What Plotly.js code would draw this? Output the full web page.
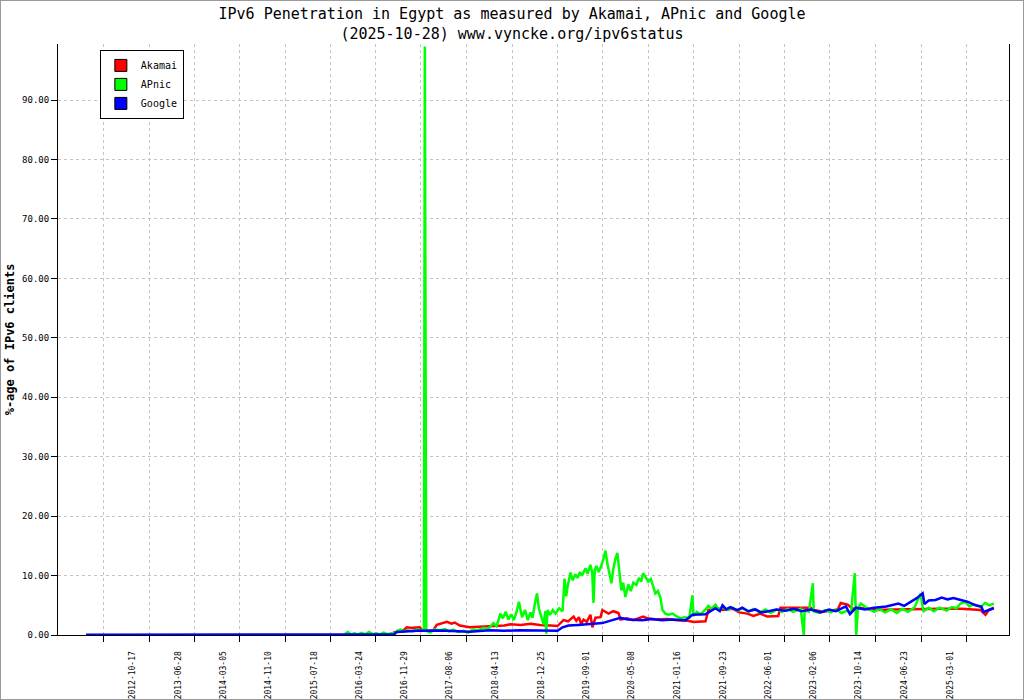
<!DOCTYPE html>
<html>
<head>
<meta charset="utf-8">
<script src="https://cdn.plot.ly/plotly-3.0.1.min.js"></script>
<style>
  html, body { margin: 0; padding: 0; background: #ffffff; }
  #chart { width: 1022px; height: 698px; border: 1px solid #9a9a9a; }
</style>
</head>
<body>
<div id="chart"></div>
<script>
// ---- Data ----
const tickLabels = ['2012-10-17','2013-06-28','2014-03-05','2014-11-10','2015-07-18','2016-03-24',
  '2016-11-29','2017-08-06','2018-04-13','2018-12-25','2019-09-01','2020-05-08','2021-01-16',
  '2021-09-23','2022-06-01','2023-02-06','2023-10-14','2024-06-23','2025-03-01'];

const akamaiDates = [
  '2016-09-25','2016-10-16','2016-11-15','2016-11-29','2016-12-10','2017-01-10','2017-02-20','2017-03-08','2017-05-03','2017-05-25',
  '2017-06-27','2017-07-20','2017-08-15','2017-09-01','2017-09-29','2017-11-23','2018-01-15','2018-04-03','2018-06-01','2018-07-06',
  '2018-09-01','2018-10-25','2018-12-15','2019-02-12','2019-03-23','2019-04-25','2019-05-20','2019-06-20','2019-07-05','2019-07-20',
  '2019-08-01','2019-08-14','2019-09-01','2019-09-21','2019-10-02','2019-10-19','2019-11-16','2019-11-26','2019-12-15','2019-12-30',
  '2020-01-26','2020-02-23','2020-03-05','2020-04-10','2020-05-15','2020-06-15','2020-07-09','2020-07-31','2020-09-15','2020-11-20',
  '2021-01-10','2021-03-11','2021-04-13','2021-06-18','2021-07-04','2021-08-15','2021-09-20','2021-11-19','2021-12-20','2022-02-04',
  '2022-03-10','2022-04-16','2022-05-25','2022-07-25','2022-08-06','2023-01-20','2023-02-06','2023-04-01','2023-06-19','2023-07-05',
  '2023-08-13','2023-09-10','2023-10-20','2023-12-15','2024-01-06','2024-05-01','2024-09-01','2025-01-01','2025-05-01','2025-08-16',
  '2025-09-12','2025-09-30','2025-10-28'];
const akamaiValues = [
  0.4,0.55,0.6,1.1,1.3,1.2,1.3,0.7,0.7,1.7,
  2.0,2.2,1.9,2.1,1.6,1.3,1.4,1.5,1.6,1.8,
  1.7,1.9,1.7,1.6,1.5,2.5,2.3,3.1,2.4,3.0,
  1.8,2.6,2.2,3.4,1.3,2.9,3.0,4.2,3.9,3.6,
  4.0,3.7,2.6,2.8,2.5,2.8,3.1,2.8,2.6,2.7,
  2.5,2.4,2.2,2.3,4.2,4.6,4.2,4.4,3.8,3.6,
  3.2,3.6,3.1,3.2,4.6,4.6,4.2,3.9,4.3,5.4,
  5.1,4.4,4.6,4.3,4.2,4.3,4.4,4.4,4.4,4.2,
  3.4,4.2,4.6];

const apnicDates = [
  '2016-01-04','2016-01-20','2016-02-05','2016-02-25','2016-03-15','2016-04-05','2016-04-25','2016-05-15','2016-06-05','2016-06-25',
  '2016-07-15','2016-08-05','2016-08-25','2016-09-15','2016-10-05','2016-10-16','2016-11-05','2016-11-25','2016-12-15','2017-01-10',
  '2017-02-04','2017-03-15','2017-03-20','2017-03-24','2017-03-28','2017-04-20','2017-05-10','2017-06-12','2017-07-10','2017-08-01',
  '2017-08-25','2017-09-20','2017-10-18','2017-11-15','2017-12-10','2018-01-10','2018-02-07','2018-03-05','2018-04-03','2018-04-20',
  '2018-05-12','2018-05-25','2018-06-10','2018-06-25','2018-07-10','2018-07-25','2018-08-10','2018-08-22','2018-09-08','2018-09-25',
  '2018-10-10','2018-10-25','2018-11-05','2018-11-19','2018-11-30','2018-12-10','2018-12-19','2019-01-05','2019-01-15','2019-01-20',
  '2019-01-27','2019-02-10','2019-02-25','2019-03-12','2019-04-01','2019-04-20','2019-05-01','2019-05-10','2019-05-17','2019-06-03',
  '2019-06-15','2019-06-30','2019-07-12','2019-07-25','2019-08-05','2019-08-25','2019-09-05','2019-09-21','2019-10-01','2019-10-08',
  '2019-10-15','2019-10-24','2019-11-05','2019-11-16','2019-12-02','2019-12-13','2019-12-24','2020-01-05','2020-01-15','2020-01-25',
  '2020-02-06','2020-02-17','2020-02-28','2020-03-10','2020-03-20','2020-04-01','2020-04-18','2020-05-01','2020-05-15','2020-06-01',
  '2020-06-15','2020-06-28','2020-07-08','2020-07-20','2020-08-06','2020-08-20','2020-09-01','2020-09-14','2020-09-28','2020-10-12',
  '2020-10-23','2020-11-08','2020-11-25','2020-12-18','2021-01-05','2021-01-31','2021-02-20','2021-03-20','2021-04-07','2021-04-12',
  '2021-05-01','2021-05-21','2021-06-15','2021-07-04','2021-07-20','2021-08-12','2021-08-28','2021-09-20','2021-10-15','2021-11-15',
  '2021-12-10','2022-01-07','2022-02-10','2022-03-10','2022-04-16','2022-05-15','2022-06-15','2022-07-15','2022-08-15','2022-09-15',
  '2022-10-15','2022-11-26','2022-12-13','2022-12-18','2023-01-10','2023-02-01','2023-02-06','2023-03-10','2023-04-10','2023-05-11',
  '2023-06-10','2023-07-10','2023-08-10','2023-08-30','2023-09-21','2023-09-29','2023-10-08','2023-10-25','2023-11-15','2023-12-10',
  '2024-01-06','2024-02-05','2024-03-05','2024-04-09','2024-05-10','2024-06-10','2024-07-10','2024-08-15','2024-09-19','2024-09-28',
  '2024-10-05','2024-11-02','2024-12-01','2025-01-01','2025-02-09','2025-03-10','2025-04-05','2025-04-27','2025-05-24','2025-06-15',
  '2025-07-10','2025-08-16','2025-09-10','2025-10-05','2025-10-28'];
const apnicValues = [
  0.2,0.5,0.1,0.3,0.1,0.35,0.1,0.5,0.15,0.3,
  0.1,0.4,0.15,0.3,0.2,0.67,0.9,0.6,0.8,0.6,
  0.9,0.7,99.0,50.0,0.7,0.4,0.9,0.8,1.0,0.6,
  0.9,0.5,0.7,0.4,0.9,0.8,1.2,1.0,2.0,1.5,
  3.6,2.8,3.9,2.6,3.5,2.5,4.0,5.6,3.0,4.2,
  2.5,3.8,2.9,5.4,7.0,4.5,3.5,1.8,4.0,0.2,
  4.2,3.4,4.2,3.6,4.5,4.0,9.5,6.5,8.0,10.5,
  9.2,10.2,9.6,10.6,10.0,11.2,10.3,11.8,10.5,5.4,
  11.0,11.6,10.6,11.3,12.8,14.2,12.0,10.0,8.7,11.0,
  12.8,13.8,11.0,7.5,8.8,6.4,8.5,7.4,8.8,8.4,
  9.6,9.0,10.4,9.8,9.0,9.4,8.4,7.0,7.4,6.2,
  4.2,3.6,3.4,3.6,3.2,2.8,3.0,2.9,6.7,3.2,
  3.9,3.5,4.2,4.9,4.4,5.1,4.3,4.7,4.2,4.6,
  4.1,4.5,3.9,4.4,3.8,4.3,3.7,4.3,3.9,4.4,
  3.9,4.4,0.0,4.2,3.9,8.7,4.0,3.7,4.2,3.8,
  4.3,3.7,4.1,3.6,10.4,0.0,4.5,5.3,4.8,4.3,
  3.9,4.4,3.8,4.3,3.7,4.4,3.9,4.6,7.0,5.0,
  4.0,4.6,4.0,4.6,4.1,4.7,4.5,5.3,5.6,4.8,
  5.2,4.7,5.4,5.0,5.3];

const googleDates = [
  '2012-02-03','2013-06-01','2014-06-01','2015-06-01','2016-06-01','2016-10-01','2016-10-16','2016-12-15','2017-02-04','2017-06-12',
  '2017-09-01','2017-11-23','2018-03-13','2018-06-01','2018-08-26','2018-12-01','2019-03-23','2019-04-20','2019-05-23','2019-07-15',
  '2019-09-09','2019-11-26','2020-01-20','2020-03-05','2020-04-13','2020-07-03','2020-08-28','2020-10-20','2020-12-18','2021-02-28',
  '2021-04-07','2021-06-18','2021-08-12','2021-09-05','2021-09-20','2021-10-10','2021-11-02','2021-12-10','2022-01-07','2022-02-10',
  '2022-03-21','2022-04-20','2022-06-01','2022-07-15','2022-09-04','2022-10-20','2022-12-01','2023-01-20','2023-03-17','2023-05-01',
  '2023-06-08','2023-08-03','2023-08-25','2023-09-28','2023-11-15','2024-01-06','2024-03-13','2024-05-19','2024-06-20','2024-07-31',
  '2024-08-28','2024-09-30','2024-10-10','2024-11-02','2024-12-10','2025-01-13','2025-02-15','2025-03-19','2025-04-27','2025-06-04',
  '2025-07-19','2025-08-20','2025-09-01','2025-10-28'];
const googleValues = [
  0.03,0.05,0.06,0.08,0.1,0.12,0.5,0.6,0.7,0.75,
  0.6,0.55,0.8,0.7,0.8,0.7,0.7,1.3,1.6,1.7,
  1.8,2.0,2.5,2.9,2.6,2.5,2.7,2.5,2.6,2.5,
  3.4,3.5,4.5,4.0,5.0,4.3,4.7,4.2,4.6,4.0,
  4.3,3.8,4.0,4.3,4.1,4.4,4.0,4.3,3.8,4.3,
  4.0,4.8,3.5,4.6,4.3,4.6,4.8,5.3,4.9,5.6,
  6.2,7.0,5.2,5.8,5.9,6.3,6.0,6.2,5.9,5.6,
  5.0,4.8,3.9,4.5];

// ---- Layout helpers ----
const DAY = 86400000;
const gridOffsetDays = 161;   // gridlines/ticks sit left of the rotated labels
const labelStepDays = 251;
const toISO = t => new Date(t).toISOString().slice(0, 10);
const gridVals = tickLabels.map(d => toISO(new Date(d + 'T00:00:00Z').getTime() - gridOffsetDays * DAY));
const lastLbl = new Date(tickLabels[tickLabels.length - 1] + 'T00:00:00Z').getTime();
gridVals.push(toISO(lastLbl + (labelStepDays - gridOffsetDays) * DAY));
const gridText = tickLabels.concat(['']);

const mono = 'DejaVu Sans Mono, Liberation Mono, monospace';

const traces = [
  {type: 'scatter', mode: 'lines', name: 'Akamai', x: akamaiDates, y: akamaiValues,
   line: {color: '#ff0000', width: 2.5}, showlegend: false, hoverinfo: 'skip'},
  {type: 'scatter', mode: 'lines', name: 'APnic', x: apnicDates, y: apnicValues,
   line: {color: '#00ff00', width: 2.5}, showlegend: false, hoverinfo: 'skip'},
  {type: 'scatter', mode: 'lines', name: 'Google', x: googleDates, y: googleValues,
   line: {color: '#0000ff', width: 2.5}, showlegend: false, hoverinfo: 'skip'},
  {type: 'bar', name: 'Akamai', x: [null], y: [null], marker: {color: '#ff0000', line: {color: '#000000', width: 1}}},
  {type: 'bar', name: 'APnic', x: [null], y: [null], marker: {color: '#00ff00', line: {color: '#000000', width: 1}}},
  {type: 'bar', name: 'Google', x: [null], y: [null], marker: {color: '#0000ff', line: {color: '#000000', width: 1}}}
];

const layout = {
  width: 1022, height: 698,
  margin: {l: 57, r: 14, t: 43, b: 64},
  paper_bgcolor: '#ffffff', plot_bgcolor: '#ffffff',
  font: {family: mono, color: '#000000'},
  title: {
    text: 'IPv6 Penetration in Egypt as measured by Akamai, APnic and Google<br>(2025-10-28) www.vyncke.org/ipv6status',
    font: {family: mono, size: 15, color: '#000000'},
    x: 0.5, xref: 'container', xanchor: 'center',
    y: 0.974, yref: 'container', yanchor: 'top'
  },
  showlegend: true,
  legend: {
    x: 0.044, y: 0.99, xanchor: 'left', yanchor: 'top',
    bgcolor: '#ffffff', bordercolor: '#000000', borderwidth: 1,
    font: {family: mono, size: 10, color: '#000000'},
    tracegroupgap: 0, traceorder: 'normal'
  },
  xaxis: {
    type: 'date',
    range: ['2011-09-01', '2026-01-20'],
    tickmode: 'array', tickvals: gridVals, ticktext: gridText,
    tickangle: -90, ticklabelshift: 29, ticklabelstandoff: 6,
    tickfont: {family: mono, size: 8, color: '#000000'},
    ticks: 'outside', ticklen: 6, tickcolor: '#000000', tickwidth: 1,
    showgrid: true, gridcolor: '#c4c4c4', griddash: 'dot', gridwidth: 1,
    showline: true, linecolor: '#000000', linewidth: 1,
    zeroline: false, fixedrange: true
  },
  yaxis: {
    range: [0, 99.43],
    tick0: 0, dtick: 10, tickformat: '.2f',
    tickfont: {family: mono, size: 9, color: '#000000'},
    ticks: 'outside', ticklen: 6, tickcolor: '#000000', tickwidth: 1,
    showgrid: true, gridcolor: '#c4c4c4', griddash: 'dot', gridwidth: 1,
    showline: true, linecolor: '#000000', linewidth: 1, mirror: true,
    zeroline: false, fixedrange: true,
    title: {text: '%-age of IPv6 clients', font: {family: mono, size: 12, color: '#000000', weight: 'bold'}, standoff: 4}
  }
};

Plotly.newPlot('chart', traces, layout, {displayModeBar: false, staticPlot: true});
</script>
</body>
</html>
